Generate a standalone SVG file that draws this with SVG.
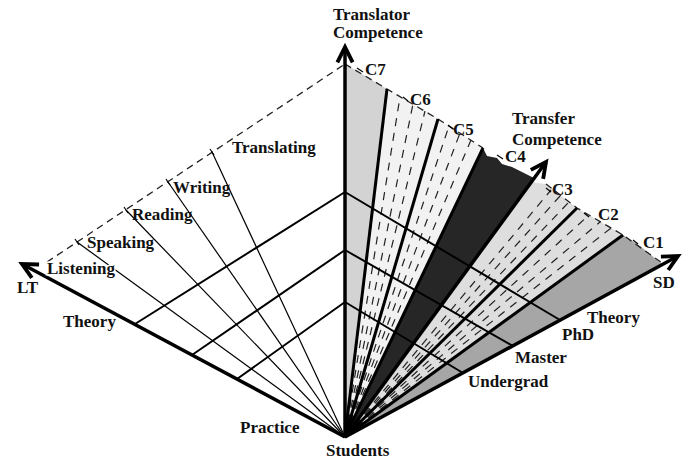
<svg xmlns="http://www.w3.org/2000/svg" width="700" height="460" viewBox="0 0 700 460">
<defs>
<marker id="arr" markerUnits="userSpaceOnUse" markerWidth="24" markerHeight="24" viewBox="-18 -10 22 20" refX="0" refY="0" orient="auto">
<path d="M-14,-7 L0,0 L-14,7" fill="none" stroke="#000" stroke-width="3.5" stroke-linejoin="miter"/>
</marker>
<style>
text{font-family:"Liberation Serif","Times New Roman",serif;font-weight:bold;font-size:17px;fill:#111}
.axis{stroke:#000;stroke-width:3.5;fill:none}
.ray{stroke:#000;stroke-width:3;fill:none}
.grid{stroke:#000;stroke-width:2;fill:none}
.thin{stroke:#000;stroke-width:1.2;fill:none}
.streak{stroke:#222;stroke-width:1.2;stroke-dasharray:8 7;fill:none}
.dash{stroke:#222;stroke-width:1.3;stroke-dasharray:7 5;fill:none}
.tick{stroke:#000;stroke-width:1.2}
</style>
</defs>
<rect width="700" height="460" fill="#fff"/>

<g id="wedges" stroke="none">
<polygon id="wC7" points="345,437 345,64 387,89" fill="#d3d3d3"/>
<polygon id="wC6" points="345,437 387,89 438,119" fill="#f2f2f2"/>
<polygon id="wC5" points="345,437 438,119 483,148" fill="#f2f2f2"/>
<polygon id="wC4" points="345,437 483,148 487,156 497,158 502,164 512,167 522,172 534,178" fill="#262626"/>
<polygon id="wC3" points="345,437 531,182 546,184 577,208" fill="#dedede"/>
<polygon id="wC2" points="345,437 577,208 623,235" fill="#dedede"/>
<polygon id="wC1" points="345,437 623,235 640,246 662,264" fill="#a6a6a6"/>
</g>

<g id="streaks">
<line class="streak" x1="345" y1="437" x2="400" y2="97"/>
<line class="streak" x1="345" y1="437" x2="413" y2="104"/>
<line class="streak" x1="345" y1="437" x2="425" y2="111"/>
<line class="streak" x1="345" y1="437" x2="449" y2="126"/>
<line class="streak" x1="345" y1="437" x2="460" y2="133"/>
<line class="streak" x1="345" y1="437" x2="471" y2="140"/>
<line class="streak" x1="345" y1="437" x2="551" y2="190"/>
<line class="streak" x1="345" y1="437" x2="560" y2="196"/>
<line class="streak" x1="345" y1="437" x2="569" y2="202"/>
<line class="streak" x1="345" y1="437" x2="589" y2="215"/>
<line class="streak" x1="345" y1="437" x2="600" y2="222"/>
<line class="streak" x1="345" y1="437" x2="611" y2="228"/>
</g>

<g id="connectors">
<polyline class="dash" points="47,262 345,64"/>
<polyline class="dash" points="345,64 387,89 438,119 483,148"/>
<polyline class="dash" points="546,184 577,208 623,235 662,263"/>
<g id="ticks">
<line class="tick" x1="75" y1="239" x2="79" y2="245"/>
<line class="tick" x1="124" y1="207" x2="128" y2="213"/>
<line class="tick" x1="166" y1="179" x2="170" y2="185"/>
<line class="tick" x1="210" y1="149" x2="214" y2="155"/>
<line class="tick" x1="357" y1="68" x2="363" y2="72"/>
<line class="tick" x1="403" y1="97" x2="408" y2="101"/>
<line class="tick" x1="448" y1="125" x2="453" y2="129"/>
<line class="tick" x1="497" y1="155" x2="503" y2="159"/>
<line class="tick" x1="546" y1="188" x2="551" y2="192"/>
<line class="tick" x1="584" y1="213" x2="589" y2="217"/>
<line class="tick" x1="633" y1="240" x2="638" y2="244"/>
</g>
<g id="skill-lines">
<line class="thin" x1="345" y1="437" x2="77" y2="242"/>
<line class="thin" x1="345" y1="437" x2="126" y2="210"/>
<line class="thin" x1="345" y1="437" x2="168" y2="182"/>
<line class="thin" x1="345" y1="437" x2="212" y2="152"/>
</g>
<g id="grid-lines">
<line class="grid" x1="135" y1="324" x2="345" y2="192"/>
<line class="grid" x1="192" y1="355" x2="345" y2="250"/>
<line class="grid" x1="237" y1="379" x2="345" y2="302"/>
<line class="grid" x1="345" y1="192" x2="560" y2="320"/>
<line class="grid" x1="345" y1="250" x2="513" y2="346"/>
<line class="grid" x1="345" y1="302" x2="463" y2="373"/>
</g>
<g id="rays">
<line class="ray" x1="345" y1="437" x2="387" y2="89"/>
<line class="ray" x1="345" y1="437" x2="438" y2="119"/>
<line class="ray" x1="345" y1="437" x2="483" y2="148"/>
<line class="ray" x1="345" y1="437" x2="577" y2="208"/>
<line class="ray" x1="345" y1="437" x2="623" y2="235"/>
</g>
<g id="axes">
<line class="axis" x1="345" y1="437" x2="345" y2="47" marker-end="url(#arr)" stroke-width="4"/>
<line class="axis" x1="345" y1="437" x2="22" y2="264" marker-end="url(#arr)"/>
<line class="axis" x1="345" y1="437" x2="678" y2="256" marker-end="url(#arr)"/>
<line class="axis" x1="345" y1="437" x2="546" y2="162" marker-end="url(#arr)" stroke-width="4"/>
</g>
</g>

<g id="node-translator"><text x="333" y="20">Translator</text><text x="333" y="38">Competence</text></g>
<g id="node-transfer"><text x="512" y="124">Transfer</text><text x="512" y="145">Competence</text></g>
<g id="node-c7"><text x="365" y="75">C7</text></g>
<g id="node-c6"><text x="410" y="105">C6</text></g>
<g id="node-c5"><text x="453" y="135">C5</text></g>
<g id="node-c4"><text x="505" y="162">C4</text></g>
<g id="node-c3"><text x="552" y="195">C3</text></g>
<g id="node-c2"><text x="598" y="220">C2</text></g>
<g id="node-c1"><text x="643" y="248">C1</text></g>
<g id="node-sd"><text x="653" y="288">SD</text></g>
<g id="node-lt"><text x="17" y="293">LT</text></g>
<g id="node-listening"><text x="47" y="274" stroke="#fff" stroke-width="3" paint-order="stroke">Listening</text></g>
<g id="node-speaking"><text x="87" y="248">Speaking</text></g>
<g id="node-reading"><text x="132" y="220">Reading</text></g>
<g id="node-writing"><text x="173" y="193">Writing</text></g>
<g id="node-translating"><text x="232" y="153">Translating</text></g>
<g id="node-theory-l"><text x="63" y="327">Theory</text></g>
<g id="node-practice"><text x="240" y="433">Practice</text></g>
<g id="node-students"><text x="326" y="456">Students</text></g>
<g id="node-theory-r"><text x="587" y="323">Theory</text></g>
<g id="node-phd"><text x="562" y="340">PhD</text></g>
<g id="node-master"><text x="515" y="363">Master</text></g>
<g id="node-undergrad"><text x="468" y="387">Undergrad</text></g>
</svg>
